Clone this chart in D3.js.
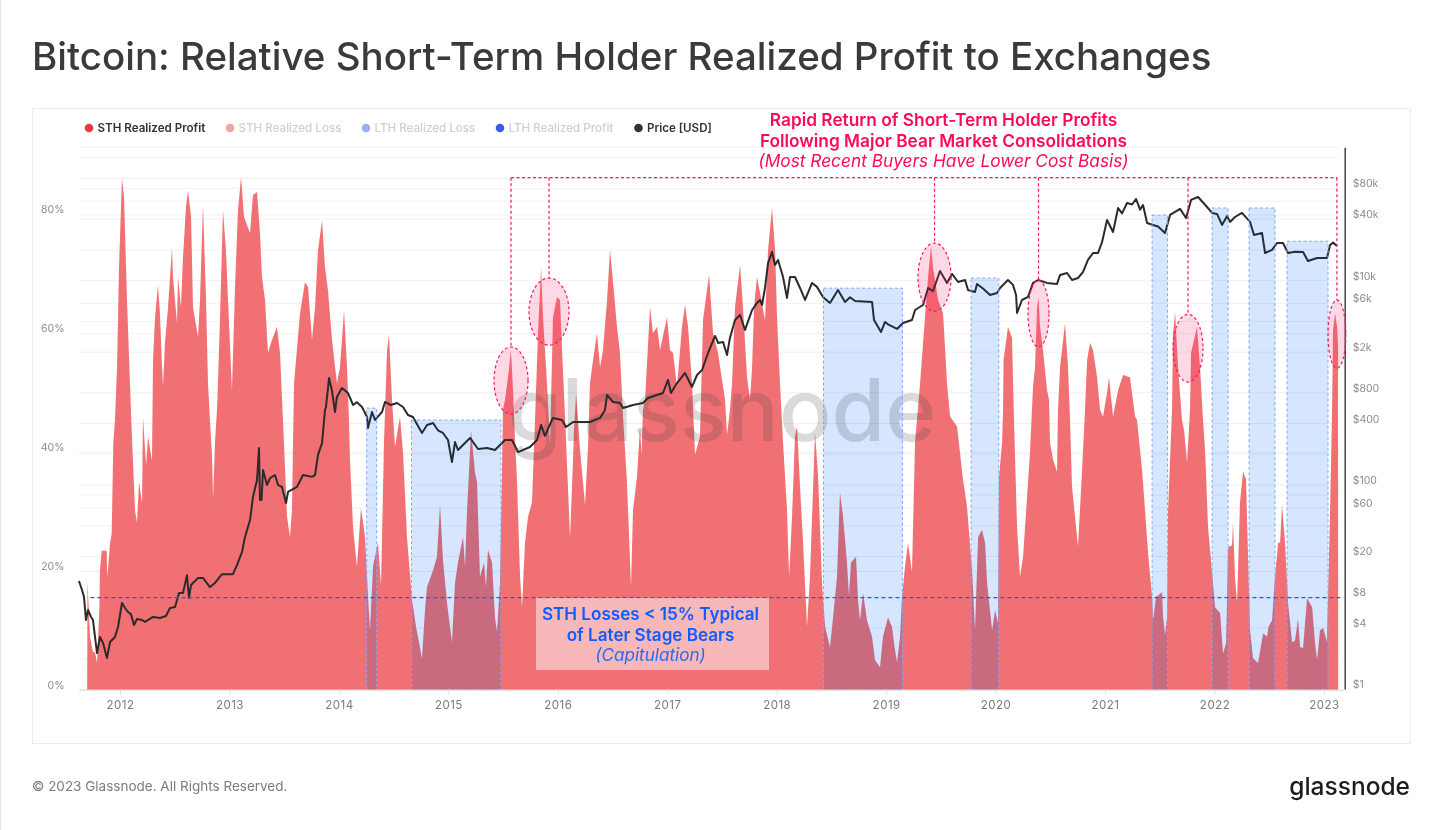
<!DOCTYPE html>
<html><head><meta charset="utf-8">
<script src="https://cdn.jsdelivr.net/npm/d3@7"></script>
<style>
html,body{margin:0;padding:0;background:#fff;overflow:hidden}
svg{display:block;font-family:Inter,"Noto Sans",sans-serif;filter:blur(.35px)}
</style></head><body>
<svg id="c" width="1440" height="830"></svg>
<script>
const titleText="Bitcoin: Relative Short-Term Holder Realized Profit to Exchanges";
const footerText="© 2023 Glassnode. All Rights Reserved.";
const brandText="glassnode";
const legendItems=["STH Realized Profit","STH Realized Loss","LTH Realized Loss","LTH Realized Profit","Price [USD]"];
const legendColors=["#e8383f","#f6a2a2","#9aaff5","#3a5ce0","#333333"];
const legendText=["#333333","#cfcfcf","#cfcfcf","#cfcfcf","#333333"];
const legendWeight=[600,500,500,500,600];
const yearTicks=[2012,2013,2014,2015,2016,2017,2018,2019,2020,2021,2022,2023];
const pctTicks=[0,20,40,60,80];
const priceLabelTicks=[1,4,8,20,60,100,400,800,2000,6000,10000,40000,80000];
const priceGridTicks=[1,2,4,8,20,40,60,80,100,200,400,800,2000,4000,6000,10000,20000,40000,60000,80000,100000,160000,200000];

// [decimal year, % of realized profit to exchanges]
const sthProfit=[[2011.7,0],[2011.703,18.2],[2011.726,8.9],[2011.753,6.3],[2011.772,6.3],[2011.79,4.5],[2011.811,13.4],[2011.817,20.1],[2011.833,23.4],[2011.878,23.4],[2011.884,18.9],[2011.909,24.6],[2011.924,26.3],[2011.939,41.5],[2011.954,45.4],[2011.973,54.3],[2011.991,71.1],[2012.018,86.1],[2012.037,82.9],[2012.064,65.6],[2012.091,51.6],[2012.101,46.3],[2012.137,30.2],[2012.155,28.1],[2012.174,35],[2012.201,31.4],[2012.21,45.9],[2012.238,37.8],[2012.256,42.6],[2012.292,38.6],[2012.302,55.5],[2012.32,62.7],[2012.347,68.1],[2012.365,63.4],[2012.384,54.3],[2012.393,51],[2012.411,58.4],[2012.439,64.4],[2012.475,74.4],[2012.484,69.5],[2012.521,61.7],[2012.53,69.5],[2012.557,64.4],[2012.576,72.9],[2012.603,81.3],[2012.621,84],[2012.649,79.7],[2012.667,64.4],[2012.713,59.4],[2012.731,65.6],[2012.758,81.6],[2012.786,65.6],[2012.804,51.6],[2012.822,45.4],[2012.841,39.2],[2012.85,32],[2012.868,41.6],[2012.886,47.1],[2012.895,51.6],[2012.914,62.7],[2012.941,80.7],[2012.968,74],[2012.987,65.6],[2013.023,50.4],[2013.051,67.8],[2013.078,80.7],[2013.106,86.3],[2013.133,79.6],[2013.188,76.9],[2013.215,83.3],[2013.252,83.8],[2013.279,76.9],[2013.297,69.5],[2013.325,65.6],[2013.352,56.7],[2013.38,58.4],[2013.434,61.1],[2013.462,56.7],[2013.489,45.4],[2013.498,41.6],[2013.526,29.1],[2013.553,25.7],[2013.571,30.2],[2013.581,41.6],[2013.59,51.6],[2013.645,63.4],[2013.69,68.6],[2013.718,67.8],[2013.754,58.9],[2013.782,64.4],[2013.809,74],[2013.846,79],[2013.873,71.1],[2013.9,67.3],[2013.937,58.9],[2013.982,51.6],[2014.01,54.3],[2014.047,63.9],[2014.074,54.3],[2014.092,45.4],[2014.101,38.7],[2014.129,27.4],[2014.165,20.7],[2014.202,30.6],[2014.239,25.7],[2014.266,15.6],[2014.284,10],[2014.312,20.7],[2014.33,22.4],[2014.357,24.8],[2014.385,17.6],[2014.412,41.6],[2014.44,57.2],[2014.458,59.8],[2014.485,48.8],[2014.513,40.9],[2014.558,46],[2014.586,39.9],[2014.622,25.7],[2014.668,15.1],[2014.705,10.6],[2014.759,5.3],[2014.787,13.4],[2014.805,17.3],[2014.86,20.1],[2014.896,22.4],[2014.924,31.1],[2014.951,21.8],[2014.988,14.6],[2015.033,8],[2015.061,18],[2015.088,21.4],[2015.134,25.7],[2015.152,20.7],[2015.171,30.2],[2015.207,43.7],[2015.244,36.5],[2015.262,35],[2015.289,19],[2015.326,21.4],[2015.344,17.3],[2015.362,23.5],[2015.399,21.4],[2015.426,12.2],[2015.445,9.7],[2015.472,18],[2015.499,47.1],[2015.518,48.8],[2015.545,52.6],[2015.572,57.2],[2015.591,50.4],[2015.609,42],[2015.627,35.3],[2015.655,19],[2015.673,13.9],[2015.7,24.7],[2015.728,29.1],[2015.764,31.5],[2015.792,45.4],[2015.819,60],[2015.847,71.1],[2015.865,62.7],[2015.901,51.6],[2015.929,41.2],[2015.956,62.7],[2015.993,66.1],[2016.02,65.6],[2016.048,53.3],[2016.066,45.9],[2016.112,25.5],[2016.139,38.6],[2016.148,43.7],[2016.167,49.9],[2016.185,45.4],[2016.203,40.3],[2016.249,31.1],[2016.276,40.9],[2016.294,51.6],[2016.322,55.5],[2016.358,60],[2016.386,54.3],[2016.413,57.2],[2016.45,65.6],[2016.477,74],[2016.505,68.5],[2016.541,61.1],[2016.568,56.7],[2016.596,46],[2016.632,34.9],[2016.669,17.3],[2016.687,30.2],[2016.724,35.9],[2016.751,44.3],[2016.765,39.5],[2016.778,47.1],[2016.797,48.8],[2016.843,64.4],[2016.87,60],[2016.907,61.1],[2016.934,57.2],[2016.998,62.7],[2017.025,57.2],[2017.053,56.7],[2017.089,51],[2017.135,61.1],[2017.162,64.8],[2017.19,61.1],[2017.226,51.6],[2017.254,39.6],[2017.299,42.6],[2017.327,62.3],[2017.382,69.9],[2017.418,60],[2017.464,56.7],[2017.5,52.2],[2017.528,48.8],[2017.546,42.9],[2017.573,47.1],[2017.592,51.6],[2017.619,64.4],[2017.665,71.5],[2017.692,64.4],[2017.729,52.6],[2017.756,48.8],[2017.775,54.3],[2017.793,64.4],[2017.82,69.5],[2017.848,66.8],[2017.893,62.2],[2017.921,74],[2017.957,81.1],[2017.985,74],[2018.003,62.7],[2018.03,51.6],[2018.058,41.6],[2018.094,30.2],[2018.113,19],[2018.14,29.1],[2018.167,42.6],[2018.186,44.3],[2018.213,34.2],[2018.241,24.7],[2018.277,10.6],[2018.304,19],[2018.35,43.3],[2018.378,35.9],[2018.414,18],[2018.442,10.6],[2018.487,7.2],[2018.515,12.2],[2018.551,19],[2018.578,33.2],[2018.606,29.1],[2018.642,21.4],[2018.66,15.9],[2018.679,21.4],[2018.725,22.4],[2018.743,15.1],[2018.761,11.7],[2018.789,16.3],[2018.825,11.7],[2018.871,8.9],[2018.898,5],[2018.944,3.8],[2018.971,8.9],[2019.017,12.2],[2019.053,10.6],[2019.072,7.8],[2019.099,4.6],[2019.127,8.9],[2019.145,15.6],[2019.172,20.7],[2019.2,24.7],[2019.236,19.8],[2019.264,41.6],[2019.31,51.6],[2019.355,62.7],[2019.383,69.5],[2019.41,74.6],[2019.428,71.1],[2019.474,65.6],[2019.52,63.4],[2019.556,51.6],[2019.584,46],[2019.648,44.3],[2019.702,35.4],[2019.739,30.8],[2019.785,20.1],[2019.812,10],[2019.84,25.7],[2019.876,26.9],[2019.904,24.7],[2019.922,18],[2019.968,10],[2019.995,13.4],[2020.022,11.2],[2020.031,35.8],[2020.059,41.6],[2020.068,47.1],[2020.073,55.5],[2020.113,61.1],[2020.15,59.2],[2020.168,45.4],[2020.196,27.4],[2020.223,19],[2020.251,22.4],[2020.287,32.3],[2020.314,39.9],[2020.342,51],[2020.36,54.3],[2020.379,64.4],[2020.392,66.1],[2020.406,61.1],[2020.433,57.2],[2020.47,50.4],[2020.488,48.8],[2020.497,41.6],[2020.525,38.7],[2020.561,36.7],[2020.57,47.1],[2020.589,54.3],[2020.634,61.7],[2020.662,54.3],[2020.68,45.4],[2020.698,34.2],[2020.753,24.1],[2020.79,37],[2020.817,47.1],[2020.836,55.5],[2020.863,58.4],[2020.89,57.2],[2020.927,52.6],[2020.954,47.1],[2020.982,46],[2021.018,50],[2021.036,52.6],[2021.073,46],[2021.119,50.4],[2021.164,53],[2021.228,52.6],[2021.274,46],[2021.292,45.4],[2021.338,37],[2021.352,33.6],[2021.393,23],[2021.43,15.6],[2021.439,11.7],[2021.466,15.6],[2021.521,16.4],[2021.53,12.3],[2021.548,9.2],[2021.567,12.3],[2021.576,30.2],[2021.612,47.1],[2021.621,60],[2021.64,63.6],[2021.667,54.3],[2021.703,45.4],[2021.722,43.7],[2021.749,38.2],[2021.776,47.1],[2021.786,56.7],[2021.84,61.1],[2021.868,54.3],[2021.895,45.4],[2021.914,40.3],[2021.941,27.4],[2021.978,19.7],[2022.005,13.9],[2022.051,12.9],[2022.078,6.1],[2022.106,7.8],[2022.124,24],[2022.16,24.3],[2022.169,28.2],[2022.187,19],[2022.206,14.7],[2022.233,31.5],[2022.261,36.7],[2022.288,35.4],[2022.325,10],[2022.352,5.3],[2022.398,4.5],[2022.444,9.5],[2022.48,8.9],[2022.494,10.6],[2022.526,11.7],[2022.553,19],[2022.581,24.7],[2022.599,24.8],[2022.617,31.1],[2022.645,24.7],[2022.672,14.6],[2022.709,8],[2022.736,8.3],[2022.763,12],[2022.782,7.2],[2022.809,7],[2022.846,15.4],[2022.892,13.9],[2022.919,7.8],[2022.937,5],[2022.964,10],[2022.992,10.4],[2023.028,8],[2023.037,15.6],[2023.056,30.2],[2023.074,47.1],[2023.083,60.5],[2023.101,63.4],[2023.12,61.1],[2023.129,58],[2023.13,0]];

// [decimal year, price in USD]
const btcPrice=[[2011.625,11.4],[2011.653,9.3],[2011.671,7.95],[2011.689,4.73],[2011.708,5.93],[2011.735,5.07],[2011.753,4.73],[2011.79,2.25],[2011.817,3.23],[2011.845,2.82],[2011.881,2.01],[2011.909,2.88],[2011.954,3.23],[2011.982,4.04],[2012.018,6.94],[2012.046,6.2],[2012.073,5.67],[2012.1,5.4],[2012.128,4.23],[2012.155,4.84],[2012.201,4.73],[2012.228,4.53],[2012.302,5.07],[2012.365,4.95],[2012.42,5.18],[2012.457,6.2],[2012.503,6.34],[2012.539,8.7],[2012.576,8.7],[2012.612,13],[2012.63,7.77],[2012.649,10.4],[2012.713,12.2],[2012.758,12.2],[2012.822,9.95],[2012.868,10.9],[2012.932,13.3],[2013.032,13.3],[2013.069,16.3],[2013.115,21.9],[2013.142,30.7],[2013.188,45],[2013.215,75.6],[2013.252,111],[2013.27,228],[2013.279,70.7],[2013.293,70.7],[2013.307,139],[2013.343,99],[2013.371,116],[2013.416,124],[2013.444,99],[2013.48,94.8],[2013.517,66],[2013.535,84.7],[2013.617,94.8],[2013.672,124],[2013.754,119],[2013.782,124],[2013.809,195],[2013.846,255],[2013.873,537],[2013.882,574],[2013.91,1104],[2013.937,830],[2013.964,513],[2013.982,720],[2014.028,881],[2014.083,787],[2014.129,601],[2014.165,640],[2014.211,574],[2014.257,458],[2014.266,358],[2014.302,513],[2014.33,429],[2014.394,513],[2014.421,643],[2014.476,600],[2014.531,628],[2014.586,574],[2014.631,480],[2014.677,458],[2014.759,320],[2014.805,383],[2014.86,401],[2014.905,340],[2014.951,320],[2014.997,273],[2015.033,166],[2015.061,261],[2015.088,218],[2015.152,255],[2015.198,286],[2015.271,223],[2015.353,228],[2015.426,218],[2015.518,273],[2015.582,273],[2015.637,208],[2015.746,233],[2015.81,273],[2015.847,383],[2015.883,300],[2015.947,429],[2015.956,449],[2016.039,429],[2016.075,366],[2016.139,410],[2016.294,410],[2016.386,449],[2016.431,537],[2016.45,753],[2016.505,643],[2016.568,628],[2016.596,562],[2016.687,601],[2016.778,628],[2016.824,703],[2016.961,787],[2017.007,1056],[2017.034,787],[2017.089,986],[2017.162,1236],[2017.226,902],[2017.272,1181],[2017.318,1322],[2017.373,1940],[2017.437,2846],[2017.464,2430],[2017.51,2483],[2017.546,1854],[2017.573,2722],[2017.619,4083],[2017.665,4560],[2017.711,3258],[2017.775,5105],[2017.82,5984],[2017.848,6400],[2017.866,5715],[2017.893,8390],[2017.921,14720],[2017.957,18880],[2017.985,14090],[2018.012,15770],[2018.058,10750],[2018.094,6700],[2018.122,10750],[2018.167,10750],[2018.213,8390],[2018.259,6400],[2018.323,9400],[2018.368,8600],[2018.423,6855],[2018.487,5984],[2018.56,8020],[2018.624,6120],[2018.67,6800],[2018.716,6250],[2018.871,6120],[2018.889,4083],[2018.953,3112],[2018.99,3900],[2019.017,3700],[2019.099,3334],[2019.154,3811],[2019.236,4083],[2019.264,5105],[2019.337,5715],[2019.383,8390],[2019.428,7800],[2019.492,12300],[2019.556,9400],[2019.602,11500],[2019.657,9600],[2019.721,10040],[2019.748,8020],[2019.812,7670],[2019.83,9180],[2019.885,8300],[2019.949,7160],[2020.013,7500],[2020.041,8390],[2020.113,10040],[2020.159,9000],[2020.187,7160],[2020.196,4775],[2020.241,6400],[2020.296,6855],[2020.342,9400],[2020.388,10040],[2020.47,9400],[2020.561,9180],[2020.589,11250],[2020.653,11750],[2020.698,10040],[2020.753,10500],[2020.799,12030],[2020.844,15770],[2020.89,18450],[2020.936,18450],[2020.973,23660],[2021.018,38800],[2021.073,29630],[2021.119,50870],[2021.155,45000],[2021.201,56900],[2021.247,55000],[2021.283,62300],[2021.32,49000],[2021.347,54400],[2021.384,36300],[2021.439,34700],[2021.484,33500],[2021.548,28970],[2021.594,43450],[2021.685,49800],[2021.74,40640],[2021.786,60950],[2021.85,65170],[2021.932,52000],[2021.978,45480],[2022.023,44500],[2022.069,34700],[2022.115,42470],[2022.142,37150],[2022.187,41500],[2022.251,45480],[2022.325,37150],[2022.361,27680],[2022.434,29000],[2022.462,18450],[2022.526,19760],[2022.571,23120],[2022.626,23120],[2022.672,18450],[2022.736,19000],[2022.809,18900],[2022.854,15420],[2022.937,16480],[2023.028,16480],[2023.056,22080],[2023.083,23300],[2023.12,21630]];

// LTH-capitulation regimes: start year, end year, top (%)
const bearBoxes=[[2014.254,2014.345,47.4],[2014.663,2015.48,45.4],[2018.428,2019.149,67.6],[2019.776,2020.029,69.3],[2021.43,2021.571,79.9],[2021.978,2022.124,81.1],[2022.316,2022.553,81.1],[2022.663,2023.037,75.5]];
// Highlight ellipses: start year, end year, low %, high %
const highlights=[[2015.417,2015.728,46.4,57.7],[2015.737,2016.102,58,69.3],[2019.291,2019.593,63.7,75.2],[2020.296,2020.488,57.7,68.9],[2021.621,2021.895,51.8,63.2],[2023.037,2023.2,54.1,65.6]];
const connectorTopPct=86.2;
const capitulationPct=15.5;
const pinkNote=["Rapid Return of Short-Term Holder Profits","Following Major Bear Market Consolidations","(Most Recent Buyers Have Lower Cost Basis)"];
const blueNote=["STH Losses < 15% Typical","of Later Stage Bears","(Capitulation)"];

const svg=d3.select("#c");
const x=d3.scaleLinear().domain([2011.6254,2023.1923]).range([79,1345]);
const yP=d3.scaleLinear().domain([0,91.1]).range([689.7,148.6]);
const yU=d3.scaleLog().domain([1,200000]).range([689,147.2]);

svg.append("rect").attr("x",0).attr("y",0).attr("width",1).attr("height",830).attr("fill","#e6e6e6");
svg.append("text").attr("x",32).attr("y",70).attr("font-size",38.5).attr("font-weight",500).attr("fill","#3a3a3a").text(titleText);
svg.append("rect").attr("x",32.5).attr("y",108.5).attr("width",1378).attr("height",635).attr("fill","#fff").attr("stroke","#ececec");

// grid through the library's axes
const gridG=svg.append("g").attr("transform","translate(79,0)").call(d3.axisRight(yU).tickValues(priceGridTicks).tickSize(1260).tickFormat(""));
const gridH=svg.append("g").attr("transform","translate(79,0)").call(d3.axisRight(yP).tickValues(pctTicks).tickSize(1260).tickFormat(""));
[gridG,gridH].forEach(g=>{g.select(".domain").remove();g.selectAll("line").attr("stroke","#f1f1f1");});

const area=d3.area().x(d=>x(d[0])).y0(yP(0)).y1(d=>yP(d[1])).curve(d3.curveLinear);
svg.append("path").datum(sthProfit).attr("d",area).attr("fill","rgb(238,97,101)").attr("fill-opacity",.9);

// watermark
svg.append("text").attr("x",722).attr("y",441).attr("text-anchor","middle").attr("font-size",87).attr("font-weight",500).attr("fill","rgba(70,70,70,.2)").text(brandText);

// price
const priceLine=d3.line().x(d=>x(d[0])).y(d=>yU(d[1])).curve(d3.curveLinear);
svg.append("path").datum(btcPrice).attr("d",priceLine).attr("fill","none").attr("stroke","#2b2b2b").attr("stroke-width",2).attr("stroke-linejoin","round");

// blue regime boxes
const boxAttrs=s=>s.attr("x",d=>x(d[0])).attr("width",d=>x(d[1])-x(d[0])).attr("y",d=>yP(d[2])).attr("height",d=>yP(0)-yP(d[2]));
svg.selectAll("rect.bear").data(bearBoxes).join("rect").attr("class","bear").call(boxAttrs)
 .attr("fill","rgb(214,229,255)").style("mix-blend-mode","multiply");
svg.selectAll("rect.bearlift").data(bearBoxes).join("rect").attr("class","bearlift").call(boxAttrs)
 .attr("fill","rgb(0,8,18)").style("mix-blend-mode","screen");
svg.selectAll("rect.bearline").data(bearBoxes).join("rect").attr("class","bearline").call(boxAttrs)
 .attr("fill","none").attr("stroke","#7fa8ff").attr("stroke-width",1).attr("stroke-dasharray","3 2.5");

// x axis
const xAxis=svg.append("g").attr("transform",`translate(0,${yP(0)})`).call(d3.axisBottom(x).tickValues(yearTicks).tickFormat(d3.format("d")).tickSize(5).tickSizeOuter(0).tickPadding(6));
xAxis.select(".domain").attr("stroke","#dedede");
xAxis.selectAll("line").attr("stroke","#dedede");
xAxis.selectAll("text").attr("font-size",11.5).attr("font-family","Inter").attr("fill","#7a7a7a").attr("letter-spacing",".5px");

// left axis
const leftAxis=svg.append("g").attr("transform","translate(64.5,0)").call(d3.axisLeft(yP).tickValues(pctTicks).tickSize(0).tickPadding(0).tickFormat(d=>d+"%"));
leftAxis.select(".domain").remove();
leftAxis.selectAll("text").attr("font-size",10.5).attr("font-family","Inter").attr("fill","#8c8c8c").attr("dy","-.15em");

// right axis
const fmtUsd=d=>d>=1000?"$"+(d/1000)+"k":"$"+d;
const rightAxis=svg.append("g").attr("transform","translate(1344.7,0)").call(d3.axisRight(yU).tickValues(priceLabelTicks).tickSize(0).tickPadding(8).tickFormat(fmtUsd));
rightAxis.select(".domain").attr("stroke","#444").attr("stroke-width",1.5);
rightAxis.selectAll("text").attr("font-size",10.5).attr("font-family","Inter").attr("fill","#8c8c8c").attr("dy","-.1em");

// 15% line
svg.append("line").attr("x1",x(2011.73)).attr("x2",x(2023.18)).attr("y1",yP(capitulationPct)).attr("y2",yP(capitulationPct))
 .attr("stroke","#1f5cff").attr("stroke-width",1.3).attr("stroke-dasharray","4 3");

// pink connectors + ellipses
const pink="#ff1463";
svg.append("line").attr("x1",x(2015.573)).attr("x2",x(2023.12)).attr("y1",yP(connectorTopPct)).attr("y2",yP(connectorTopPct)).attr("stroke",pink).attr("stroke-width",1.2).attr("stroke-dasharray","3 2.5");
svg.selectAll("line.conn").data(highlights).join("line").attr("class","conn")
 .attr("x1",d=>x((d[0]+d[1])/2)).attr("x2",d=>x((d[0]+d[1])/2)).attr("y1",yP(connectorTopPct)).attr("y2",d=>yP(d[3]))
 .attr("stroke",pink).attr("stroke-width",1.2).attr("stroke-dasharray","3 2.5");
svg.selectAll("ellipse").data(highlights).join("ellipse")
 .attr("cx",d=>x((d[0]+d[1])/2)).attr("rx",d=>(x(d[1])-x(d[0]))/2)
 .attr("cy",d=>yP((d[2]+d[3])/2)).attr("ry",d=>(yP(d[2])-yP(d[3]))/2)
 .attr("fill","rgba(255,40,110,.18)").attr("stroke",pink).attr("stroke-width",1.2).attr("stroke-dasharray","3 2.5");

// blue note
svg.append("rect").attr("x",536).attr("y",598).attr("width",233).attr("height",72).attr("fill","rgba(255,255,255,.5)");
svg.selectAll("text.bn").data(blueNote).join("text").attr("class","bn").attr("text-anchor","middle").attr("x",650.5)
 .attr("y",(d,i)=>620+i*20.7).attr("font-size",17.1).attr("font-weight",(d,i)=>i<2?600:400).attr("font-style",(d,i)=>i<2?"normal":"italic")
 .attr("fill",(d,i)=>i<2?"#0f5cff":"#2a6af0").text(d=>d);

// pink note
svg.selectAll("text.pn").data(pinkNote).join("text").attr("class","pn").attr("text-anchor","middle").attr("x",943.5)
 .attr("y",(d,i)=>126+i*20.7).attr("font-size",17.3).attr("font-weight",(d,i)=>i<2?600:400).attr("font-style",(d,i)=>i<2?"normal":"italic")
 .attr("fill","#ff0a5a").text(d=>d);

// legend
const legendX=[89,230,366,500,638.5];
const lg=svg.selectAll("g.lg").data(legendItems).join("g").attr("class","lg").attr("transform",(d,i)=>`translate(${legendX[i]},128)`);
lg.append("circle").attr("r",4.3).attr("fill",(d,i)=>legendColors[i]);
lg.append("text").attr("x",8.5).attr("y",4).attr("font-size",11.6).attr("font-weight",(d,i)=>legendWeight[i]).attr("fill",(d,i)=>legendText[i]).text(d=>d);

// footer
svg.append("text").attr("x",32).attr("y",791).attr("font-size",13.5).attr("fill","#7c7c7c").text(footerText);
svg.append("text").attr("x",1410).attr("y",795).attr("text-anchor","end").attr("font-size",24.5).attr("font-weight",500).attr("fill","#1c1c1c").text(brandText);
</script>
</body></html>
